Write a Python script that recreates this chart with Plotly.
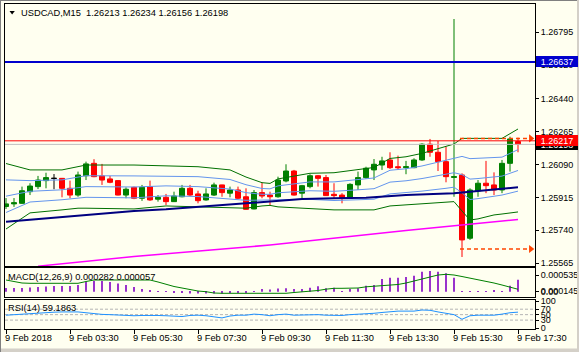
import plotly.graph_objects as go

# ---------------- data ----------------
symbol = "USDCAD,M15"
bars = list(range(65))
opens = [1.25867, 1.25881, 1.25884, 1.25946, 1.25973, 1.26005, 1.26017, 1.26017, 1.25964, 1.25928,
         1.26031, 1.26097, 1.26030, 1.26014, 1.26005, 1.25928, 1.25969, 1.25911, 1.25973, 1.25906,
         1.25916, 1.25893, 1.25919, 1.25964, 1.25934, 1.25902, 1.25928, 1.25982, 1.25938, 1.25955,
         1.25919, 1.25854, 1.25941, 1.25928, 1.25919, 1.26003, 1.26056, 1.25938, 1.25973, 1.26031,
         1.26021, 1.25932, 1.25928, 1.25911, 1.25982, 1.26021, 1.26062, 1.26088, 1.26115, 1.26079,
         1.26074, 1.26074, 1.26115, 1.26199, 1.26156, 1.26106, 1.26022, 1.26035, 1.25698, 1.25950,
         1.25991, 1.25982, 1.25955, 1.26097, 1.26213]
highs = [1.25912, 1.25912, 1.25973, 1.25991, 1.26030, 1.26047, 1.26040, 1.26019, 1.26005, 1.26053,
         1.26106, 1.26119, 1.26094, 1.26030, 1.26008, 1.25969, 1.25973, 1.25982, 1.26005, 1.25928,
         1.25934, 1.25946, 1.25982, 1.25982, 1.25951, 1.25964, 1.25994, 1.25983, 1.25973, 1.25973,
         1.25964, 1.25955, 1.25994, 1.25946, 1.26026, 1.26092, 1.26062, 1.25982, 1.26039, 1.26035,
         1.26035, 1.25991, 1.25938, 1.25991, 1.26053, 1.26079, 1.26120, 1.26132, 1.26156, 1.26138,
         1.26110, 1.26124, 1.26204, 1.26227, 1.26216, 1.26186, 1.26866, 1.26044, 1.25964, 1.26008,
         1.26110, 1.26049, 1.26115, 1.26239, 1.26234]
lows = [1.25854, 1.25865, 1.25881, 1.25928, 1.25960, 1.25964, 1.25959, 1.25916, 1.25911, 1.25919,
        1.26008, 1.26023, 1.25982, 1.25991, 1.25926, 1.25911, 1.25906, 1.25897, 1.25897, 1.25893,
        1.25875, 1.25891, 1.25916, 1.25923, 1.25884, 1.25898, 1.25923, 1.25919, 1.25916, 1.25906,
        1.25849, 1.25852, 1.25911, 1.25870, 1.25914, 1.25996, 1.25925, 1.25911, 1.25964, 1.25973,
        1.25923, 1.25907, 1.25884, 1.25907, 1.25955, 1.26014, 1.26008, 1.26062, 1.26067, 1.26062,
        1.26039, 1.26071, 1.26110, 1.26132, 1.26056, 1.25996, 1.25919, 1.25598, 1.25689, 1.25919,
        1.25938, 1.25928, 1.25938, 1.26053, 1.26156]
closes = [1.25881, 1.25887, 1.25951, 1.25976, 1.26008, 1.26021, 1.26017, 1.25964, 1.25928, 1.26035,
          1.26094, 1.26026, 1.26008, 1.25996, 1.25928, 1.25959, 1.25911, 1.25969, 1.25902, 1.25916,
          1.25893, 1.25923, 1.25964, 1.25928, 1.25898, 1.25934, 1.25982, 1.25941, 1.25955, 1.25911,
          1.25852, 1.25941, 1.25923, 1.25919, 1.26008, 1.26056, 1.25928, 1.25978, 1.26031, 1.26017,
          1.25925, 1.25925, 1.25911, 1.25985, 1.26021, 1.26071, 1.26092, 1.26110, 1.26074, 1.26074,
          1.26079, 1.26115, 1.26199, 1.26156, 1.26106, 1.26026, 1.26026, 1.25689, 1.25955, 1.25991,
          1.25978, 1.25955, 1.26097, 1.26227, 1.26198]

# Bollinger bands (green = 2 dev, blue = 1 dev + middle), sampled at bar positions
band_bars = [0, 2, 3, 7, 9, 10, 16, 20, 24, 28, 30, 32, 33, 34, 38, 41, 44, 46, 48, 50,
             52, 55, 56, 57, 58, 59, 61, 62, 64]
bb2_upper = [1.26096, 1.26072, 1.26062, 1.26062, 1.26080, 1.26088, 1.26088, 1.26083, 1.26079, 1.26062,
             1.26024, 1.25994, 1.25990, 1.26014, 1.26044, 1.26047, 1.26062, 1.26075, 1.26123, 1.26132,
             1.26150, 1.26189, 1.26200, 1.26230, 1.26230, 1.26230, 1.26230, 1.26230, 1.26280]
bb1_upper = [1.26009, 1.26006, 1.26005, 1.26009, 1.26025, 1.26031, 1.26030, 1.26030, 1.26026, 1.26011,
             1.25983, 1.25963, 1.25961, 1.25977, 1.25998, 1.25998, 1.26009, 1.26019, 1.26060, 1.26068,
             1.26083, 1.26114, 1.26124, 1.26134, 1.26122, 1.26123, 1.26128, 1.26130, 1.26170]
bb_middle = [1.25922, 1.25939, 1.25948, 1.25956, 1.25969, 1.25973, 1.25971, 1.25977, 1.25973, 1.25960,
             1.25941, 1.25932, 1.25932, 1.25940, 1.25951, 1.25948, 1.25956, 1.25962, 1.25997, 1.26004,
             1.26016, 1.26039, 1.26047, 1.26037, 1.26013, 1.26016, 1.26026, 1.26029, 1.26059]
bb1_lower = [1.25835, 1.25873, 1.25891, 1.25903, 1.25914, 1.25916, 1.25913, 1.25924, 1.25920, 1.25909,
             1.25900, 1.25901, 1.25903, 1.25903, 1.25905, 1.25899, 1.25903, 1.25906, 1.25934, 1.25940,
             1.25949, 1.25964, 1.25970, 1.25940, 1.25904, 1.25909, 1.25924, 1.25928, 1.25949]
bb2_lower = [1.25747, 1.25806, 1.25833, 1.25849, 1.25858, 1.25858, 1.25854, 1.25870, 1.25866, 1.25858,
             1.25858, 1.25870, 1.25873, 1.25865, 1.25858, 1.25849, 1.25849, 1.25849, 1.25870, 1.25875,
             1.25881, 1.25889, 1.25893, 1.25843, 1.25795, 1.25801, 1.25822, 1.25827, 1.25838]

ma_navy_bars = [0, 16, 20, 24, 29, 33, 37, 41, 45, 50, 56, 60, 64]
ma_navy = [1.25786, 1.25843, 1.25852, 1.25865, 1.25884, 1.25897, 1.25907, 1.25911, 1.25914, 1.25928,
           1.25938, 1.25953, 1.25969]
ma_magenta_bars = [4, 16, 26, 33, 50, 64]
ma_magenta = [1.25549, 1.25601, 1.25636, 1.25662, 1.25739, 1.25798]

# MACD(12,26,9), values in millionths
macd_hist_micro = [87, 87, 87, 99, 111, 123, 134, 134, 134, 158,
                   229, 252, 252, 229, 193, 158, 111, 64, 28, 16,
                   -7, -19, -31, -42, -42, -42, -42, -42, -31, -31,
                   -19, 5, 64, 52, 75, 80, 64, 64, 94, 127,
                   80, 94, 16, 64, 80, 141, 158, 299, 330, 330,
                   346, 377, 471, 488, 471, 434, 330, 16, -7, -7,
                   5, 40, 16, 141, 282]
macd_signal_micro = [276, 240, 205, 198, 198, 198, 198, 198, 198, 198,
                     240, 276, 276, 276, 276, 276, 276, 276, 276, 229,
                     170, 123, 87, 52, 16, 0, -31, -38, -38, -38,
                     -38, -38, -38, -38, -38, -38, -19, -7, 0, 28,
                     59, 80, 80, 80, 87, 115, 127, 134, 146, 170,
                     205, 252, 306, 358, 394, 410, 394, 358, 323, 276,
                     236, 205, 158, 104, 57]
rsi = [48, 50, 53, 55, 57, 58, 59, 60, 60, 60,
       57, 53, 51, 50, 48, 47, 46, 47, 48, 47,
       46, 44, 43, 47, 48, 46, 42, 38, 45, 48,
       48, 52, 50, 46, 50, 52, 48, 49, 50, 50,
       48, 47, 47, 50, 51, 52, 55, 58, 61, 63,
       63, 63, 67, 66, 60, 54, 50, 33, 46, 48,
       48, 48, 52, 57, 59.1863]
rsi_levels = [70, 50, 30]

price_tick_text = ["1.25565", "1.25740", "1.25915", "1.26090", "1.26265", "1.26440", "1.26620", "1.26795"]
macd_tick_text = ["0.000535", "0.000145", "0.00"]
macd_tick_pos = [0.000394, 0.0000165, 0.0]
rsi_tick_vals = [100, 70, 50, 30, 0]
time_labels = ["9 Feb 2018", "9 Feb 03:30", "9 Feb 05:30", "9 Feb 07:30", "9 Feb 09:30",
               "9 Feb 11:30", "9 Feb 13:30", "9 Feb 15:30", "9 Feb 17:30"]
time_label_bars = [0, 8, 16, 24, 32, 40, 48, 56, 64]

blue_level = 1.26637
ask_price = 1.26217
bid_price = closes[-1]
target_levels = [1.26230, 1.25641]
target_span = [56.75, 65.6]

# ---------------- layout helpers ----------------
W, H = 579, 352
ML, MR, MT, MB = 5, 44, 4, 23
PW = W - ML - MR
PH = H - MT - MB


def pxx(px):
    return (px - ML) / PW


def pyy(py):
    return (H - MB - py) / PH


IVORY = "#FFFFF0"
UP = "#008000"
DOWN = "#FF0000"
BAND_GREEN = "#007000"
BAND_BLUE = "#6495ED"
FONT = "Liberation Sans"

fig = go.Figure()

normal = [i for i in bars if opens[i] != closes[i]]
dojis = [i for i in bars if opens[i] == closes[i]]

fig.add_trace(go.Candlestick(
    x=normal, open=[opens[i] for i in normal], high=[highs[i] for i in normal],
    low=[lows[i] for i in normal], close=[closes[i] for i in normal],
    increasing=dict(line=dict(color=UP, width=1), fillcolor=UP),
    decreasing=dict(line=dict(color=DOWN, width=1), fillcolor=DOWN),
    whiskerwidth=0, xaxis="x", yaxis="y", showlegend=False, hoverinfo="skip"))
fig.add_trace(go.Candlestick(
    x=dojis, open=[opens[i] for i in dojis], high=[highs[i] for i in dojis],
    low=[lows[i] for i in dojis], close=[closes[i] for i in dojis],
    increasing=dict(line=dict(color="black", width=1), fillcolor="black"),
    decreasing=dict(line=dict(color="black", width=1), fillcolor="black"),
    whiskerwidth=0, xaxis="x", yaxis="y", showlegend=False, hoverinfo="skip"))

for ys, col, w in [(bb2_upper, BAND_GREEN, 1), (bb2_lower, BAND_GREEN, 1),
                   (bb1_upper, BAND_BLUE, 1), (bb_middle, BAND_BLUE, 1), (bb1_lower, BAND_BLUE, 1)]:
    fig.add_trace(go.Scatter(x=band_bars, y=ys, mode="lines", line=dict(color=col, width=w),
                             xaxis="x", yaxis="y", showlegend=False, hoverinfo="skip"))
fig.add_trace(go.Scatter(x=ma_navy_bars, y=ma_navy, mode="lines", line=dict(color="#000080", width=2),
                         xaxis="x", yaxis="y", showlegend=False, hoverinfo="skip"))
fig.add_trace(go.Scatter(x=ma_magenta_bars, y=ma_magenta, mode="lines", line=dict(color="#FF00FF", width=1.5),
                         xaxis="x", yaxis="y", showlegend=False, hoverinfo="skip"))

for lvl in target_levels:
    fig.add_trace(go.Scatter(x=target_span, y=[lvl, lvl], mode="lines",
                             line=dict(color="#FF4500", width=1.5, dash="4px,3px"),
                             xaxis="x", yaxis="y", showlegend=False, hoverinfo="skip"))
    fig.add_trace(go.Scatter(x=[target_span[1]], y=[lvl], mode="markers",
                             marker=dict(symbol="triangle-right", size=7, color="#FF4500"),
                             xaxis="x", yaxis="y", showlegend=False, hoverinfo="skip", cliponaxis=False))

macd_hist = [v * 1e-6 for v in macd_hist_micro]
macd_signal = [v * 1e-6 for v in macd_signal_micro]
fig.add_trace(go.Bar(x=bars, y=macd_hist, width=0.18, marker=dict(color="#9932CC", line=dict(width=0)),
                     xaxis="x2", yaxis="y2", showlegend=False, hoverinfo="skip"))
fig.add_trace(go.Scatter(x=bars, y=macd_signal, mode="lines", line=dict(color=UP, width=1),
                         xaxis="x2", yaxis="y2", showlegend=False, hoverinfo="skip"))

for lvl in rsi_levels:
    fig.add_trace(go.Scatter(x=[-0.125, 66.125], y=[lvl, lvl], mode="lines",
                             line=dict(color="#B4B4B4", width=1, dash="3px,2px"),
                             xaxis="x3", yaxis="y3", showlegend=False, hoverinfo="skip"))
fig.add_trace(go.Scatter(x=bars, y=rsi, mode="lines", line=dict(color="#1E90FF", width=1),
                         xaxis="x3", yaxis="y3", showlegend=False, hoverinfo="skip"))

axis_common = dict(showgrid=False, zeroline=False, showline=True, mirror=True,
                   linecolor="black", linewidth=1, automargin=False)
xr = [-0.125, 66.125]
tick_font = dict(family=FONT, size=9, color="black")

fig.update_layout(
    template="none",
    width=W, height=H,
    margin=dict(l=ML, r=MR, t=MT, b=MB, pad=0, autoexpand=False),
    paper_bgcolor=IVORY, plot_bgcolor=IVORY,
    showlegend=False, hovermode=False,
    boxgap=0.375, boxgroupgap=0,
    font=dict(family=FONT, size=9, color="black"),
    xaxis=dict(domain=[0, 1], range=xr, anchor="y", showticklabels=False, ticks="",
               rangeslider=dict(visible=False), **axis_common),
    xaxis2=dict(domain=[0, 1], range=xr, anchor="y2", showticklabels=False, ticks="",
                matches="x", **axis_common),
    xaxis3=dict(domain=[0, 1], range=xr, anchor="y3", showticklabels=False, ticks="outside",
                tickvals=time_label_bars, ticklen=4, tickcolor="black", matches="x", **axis_common),
    yaxis=dict(domain=[pyy(266), 1.0], range=[1.25550, 1.26946], side="right", anchor="x",
               tickvals=[float(t) for t in price_tick_text], ticktext=price_tick_text,
               ticks="outside", ticklen=3, tickcolor="black", tickfont=tick_font, **axis_common),
    yaxis2=dict(domain=[pyy(297), pyy(268)], range=[-0.000125, 0.000559], side="right", anchor="x2",
                tickvals=macd_tick_pos, ticktext=macd_tick_text,
                ticks="outside", ticklen=3, tickcolor="black", tickfont=tick_font, **axis_common),
    yaxis3=dict(domain=[0, pyy(300)], range=[-2.7, 103.8], side="right", anchor="x3",
                tickvals=rsi_tick_vals, ticktext=[str(v) for v in rsi_tick_vals],
                ticks="outside", ticklen=3, tickcolor="black", tickfont=tick_font, **axis_common),
)

shapes = [
    dict(type="line", xref="x domain", yref="y", x0=0, x1=1, y0=blue_level, y1=blue_level,
         line=dict(color="#0000CD", width=2)),
    dict(type="line", xref="x domain", yref="y", x0=0, x1=1, y0=bid_price, y1=bid_price,
         line=dict(color="#C0C0C0", width=1)),
    dict(type="line", xref="x domain", yref="y", x0=0, x1=1, y0=ask_price, y1=ask_price,
         line=dict(color="#FF0000", width=1)),
    dict(type="path", xref="paper", yref="paper", fillcolor="black", line=dict(width=0),
         path="M {} {} L {} {} L {} {} Z".format(pxx(9.5), pyy(11), pxx(14.8), pyy(11), pxx(12.15), pyy(14.6))),
    # window edges (sunken frame)
    dict(type="rect", xref="paper", yref="paper", x0=pxx(0), x1=pxx(W), y0=pyy(H), y1=pyy(348.5),
         fillcolor="#D4D0C8", line=dict(width=0), layer="above"),
    dict(type="line", xref="paper", yref="paper", x0=pxx(0.5), x1=pxx(0.5), y0=pyy(H), y1=pyy(0),
         line=dict(color="#808080", width=1)),
    dict(type="line", xref="paper", yref="paper", x0=pxx(0), x1=pxx(W), y0=pyy(0.5), y1=pyy(0.5),
         line=dict(color="#808080", width=1)),
    dict(type="line", xref="paper", yref="paper", x0=pxx(W - 1), x1=pxx(W - 1), y0=pyy(H), y1=pyy(0),
         line=dict(color="#D4D0C8", width=2)),
]
fig.update_layout(shapes=shapes)

annotations = []
header = "{}\u00a0\u00a0{:.5f} {:.5f} {:.5f} {:.5f}".format(symbol, opens[-1], highs[-1], lows[-1], closes[-1])
annotations.append(dict(text=header, xref="paper", yref="paper", x=pxx(20.7), y=pyy(12.7),
                        xanchor="left", yanchor="middle", xshift=-2, showarrow=False,
                        font=dict(family=FONT, size=9.3, color="black")))
annotations.append(dict(text="MACD(12,26,9) {:.6f} {:.6f}".format(macd_hist[-1], macd_signal[-1]),
                        xref="paper", yref="paper", x=pxx(8.3), y=pyy(277.3), xanchor="left",
                        yanchor="middle", xshift=-2, showarrow=False,
                        font=dict(family=FONT, size=9.3, color="black")))
annotations.append(dict(text="RSI(14) {:.4f}".format(rsi[-1]),
                        xref="paper", yref="paper", x=pxx(8.3), y=pyy(308.3), xanchor="left",
                        yanchor="middle", xshift=-2, showarrow=False,
                        font=dict(family=FONT, size=9.3, color="black")))
for lab, b in zip(time_labels, time_label_bars):
    annotations.append(dict(text=lab, xref="x3", yref="paper", x=b, y=pyy(337.5),
                            xanchor="left", yanchor="middle", xshift=-3, showarrow=False,
                            font=dict(family=FONT, size=9.3, color="black")))
for price, bg in [(blue_level, "#0000CD"), (bid_price, "#000000"), (ask_price, "#FF0000")]:
    annotations.append(dict(text="{:.5f}".format(price), xref="paper", yref="y", x=1.0, y=price,
                            xanchor="left", yanchor="middle", xshift=1, showarrow=False,
                            width=40, height=9, borderpad=1, borderwidth=0, bgcolor=bg, align="center",
                            font=dict(family=FONT, size=9, color="white")))
fig.update_layout(annotations=annotations)

fig.write_html("out.html")
